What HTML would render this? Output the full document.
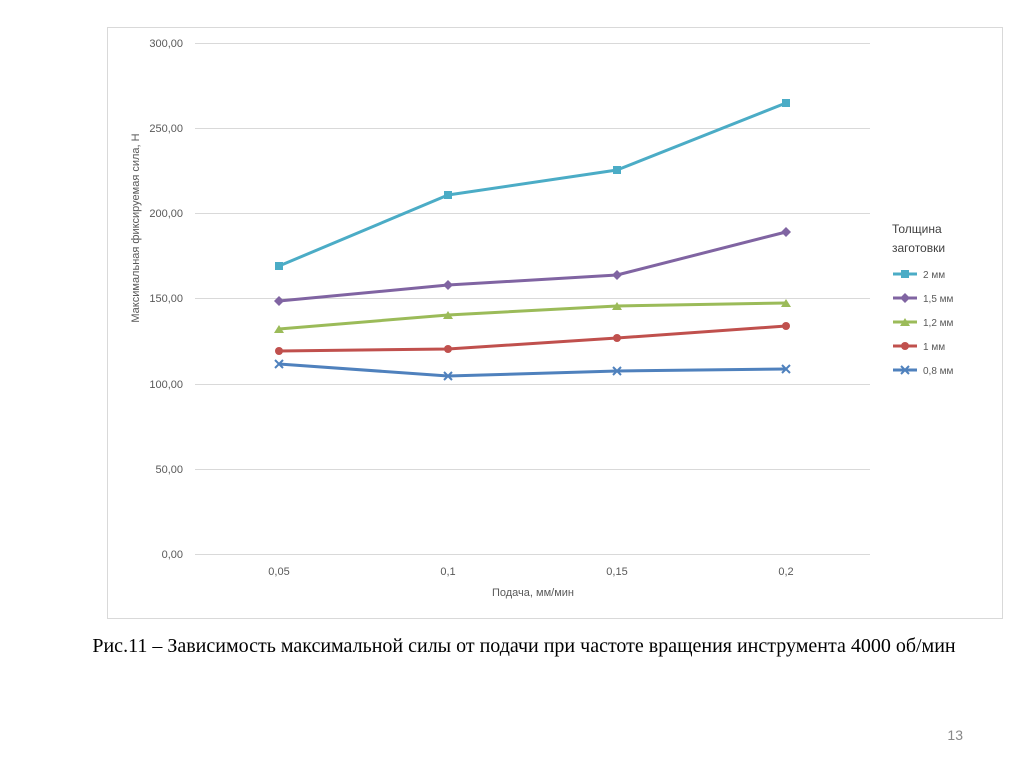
<!DOCTYPE html>
<html><head><meta charset="utf-8"><style>
body{margin:0;background:#fff;width:1024px;height:767px;overflow:hidden;font-family:"Liberation Sans",sans-serif}
</style></head><body>
<svg width="1024" height="767" xmlns="http://www.w3.org/2000/svg" font-family="Liberation Sans, sans-serif">
<rect x="107.5" y="27.5" width="895" height="591" fill="#fff" stroke="#d9d9d9"/>
<g stroke="#d9d9d9" stroke-width="1">
<line x1="195" y1="43.5" x2="870" y2="43.5"/>
<line x1="195" y1="128.5" x2="870" y2="128.5"/>
<line x1="195" y1="213.5" x2="870" y2="213.5"/>
<line x1="195" y1="298.5" x2="870" y2="298.5"/>
<line x1="195" y1="384.5" x2="870" y2="384.5"/>
<line x1="195" y1="469.5" x2="870" y2="469.5"/>
<line x1="195" y1="554.5" x2="870" y2="554.5"/>
</g>
<g font-size="11" fill="#595959" text-anchor="end">
<text x="183" y="47">300,00</text><text x="183" y="132">250,00</text><text x="183" y="217">200,00</text>
<text x="183" y="302">150,00</text><text x="183" y="388">100,00</text><text x="183" y="473">50,00</text><text x="183" y="558">0,00</text>
</g>
<g font-size="11" fill="#595959" text-anchor="middle">
<text x="279" y="575">0,05</text><text x="448" y="575">0,1</text><text x="617" y="575">0,15</text><text x="786" y="575">0,2</text>
<text x="533" y="596">Подача, мм/мин</text>
</g>
<text transform="translate(139,228) rotate(-90)" font-size="11" fill="#595959" text-anchor="middle">Максимальная фиксируемая сила, Н</text>
<g fill="none" stroke-width="3" stroke-linejoin="round">
<polyline stroke="#4bacc6" points="279,266 448,195 617,170 786,103"/>
<polyline stroke="#8064a2" points="279,301 448,285 617,275 786,232"/>
<polyline stroke="#9bbb59" points="279,329 448,315 617,306 786,303"/>
<polyline stroke="#c0504d" points="279,351 448,349 617,338 786,326"/>
<polyline stroke="#4f81bd" points="279,364 448,376 617,371 786,369"/>
</g>
<g fill="#4bacc6"><rect x="275" y="262" width="8" height="8"/><rect x="444" y="191" width="8" height="8"/><rect x="613" y="166" width="8" height="8"/><rect x="782" y="99" width="8" height="8"/></g>
<g fill="#8064a2"><path d="M279 296l5 5-5 5-5-5z"/><path d="M448 280l5 5-5 5-5-5z"/><path d="M617 270l5 5-5 5-5-5z"/><path d="M786 227l5 5-5 5-5-5z"/></g>
<g fill="#9bbb59"><path d="M279 325l5 8h-10z"/><path d="M448 311l5 8h-10z"/><path d="M617 302l5 8h-10z"/><path d="M786 299l5 8h-10z"/></g>
<g fill="#c0504d"><circle cx="279" cy="351" r="4"/><circle cx="448" cy="349" r="4"/><circle cx="617" cy="338" r="4"/><circle cx="786" cy="326" r="4"/></g>
<g stroke="#4f81bd" stroke-width="2"><path d="M275 360l8 8M283 360l-8 8"/><path d="M444 372l8 8M452 372l-8 8"/><path d="M613 367l8 8M621 367l-8 8"/><path d="M782 365l8 8M790 365l-8 8"/></g>
<g font-size="12" fill="#404040"><text x="892" y="233">Толщина</text><text x="892" y="252">заготовки</text></g>
<g font-size="10" fill="#595959">
<line x1="893" y1="274" x2="917" y2="274" stroke="#4bacc6" stroke-width="3"/><rect x="901" y="270" width="8" height="8" fill="#4bacc6"/><text x="923" y="278">2 мм</text>
<line x1="893" y1="298" x2="917" y2="298" stroke="#8064a2" stroke-width="3"/><path d="M905 293l5 5-5 5-5-5z" fill="#8064a2"/><text x="923" y="302">1,5 мм</text>
<line x1="893" y1="322" x2="917" y2="322" stroke="#9bbb59" stroke-width="3"/><path d="M905 318l5 8h-10z" fill="#9bbb59"/><text x="923" y="326">1,2 мм</text>
<line x1="893" y1="346" x2="917" y2="346" stroke="#c0504d" stroke-width="3"/><circle cx="905" cy="346" r="4" fill="#c0504d"/><text x="923" y="350">1 мм</text>
<line x1="893" y1="370" x2="917" y2="370" stroke="#4f81bd" stroke-width="3"/><path d="M901 366l8 8M909 366l-8 8" stroke="#4f81bd" stroke-width="2"/><text x="923" y="374">0,8 мм</text>
</g>
<text x="524" y="652" font-family="Liberation Serif, serif" font-size="20" fill="#000" text-anchor="middle">Рис.11 – Зависимость максимальной силы от подачи при частоте вращения инструмента 4000 об/мин</text>
<text x="963" y="740" font-size="14" fill="#888" text-anchor="end">13</text>
</svg>
</body></html>
